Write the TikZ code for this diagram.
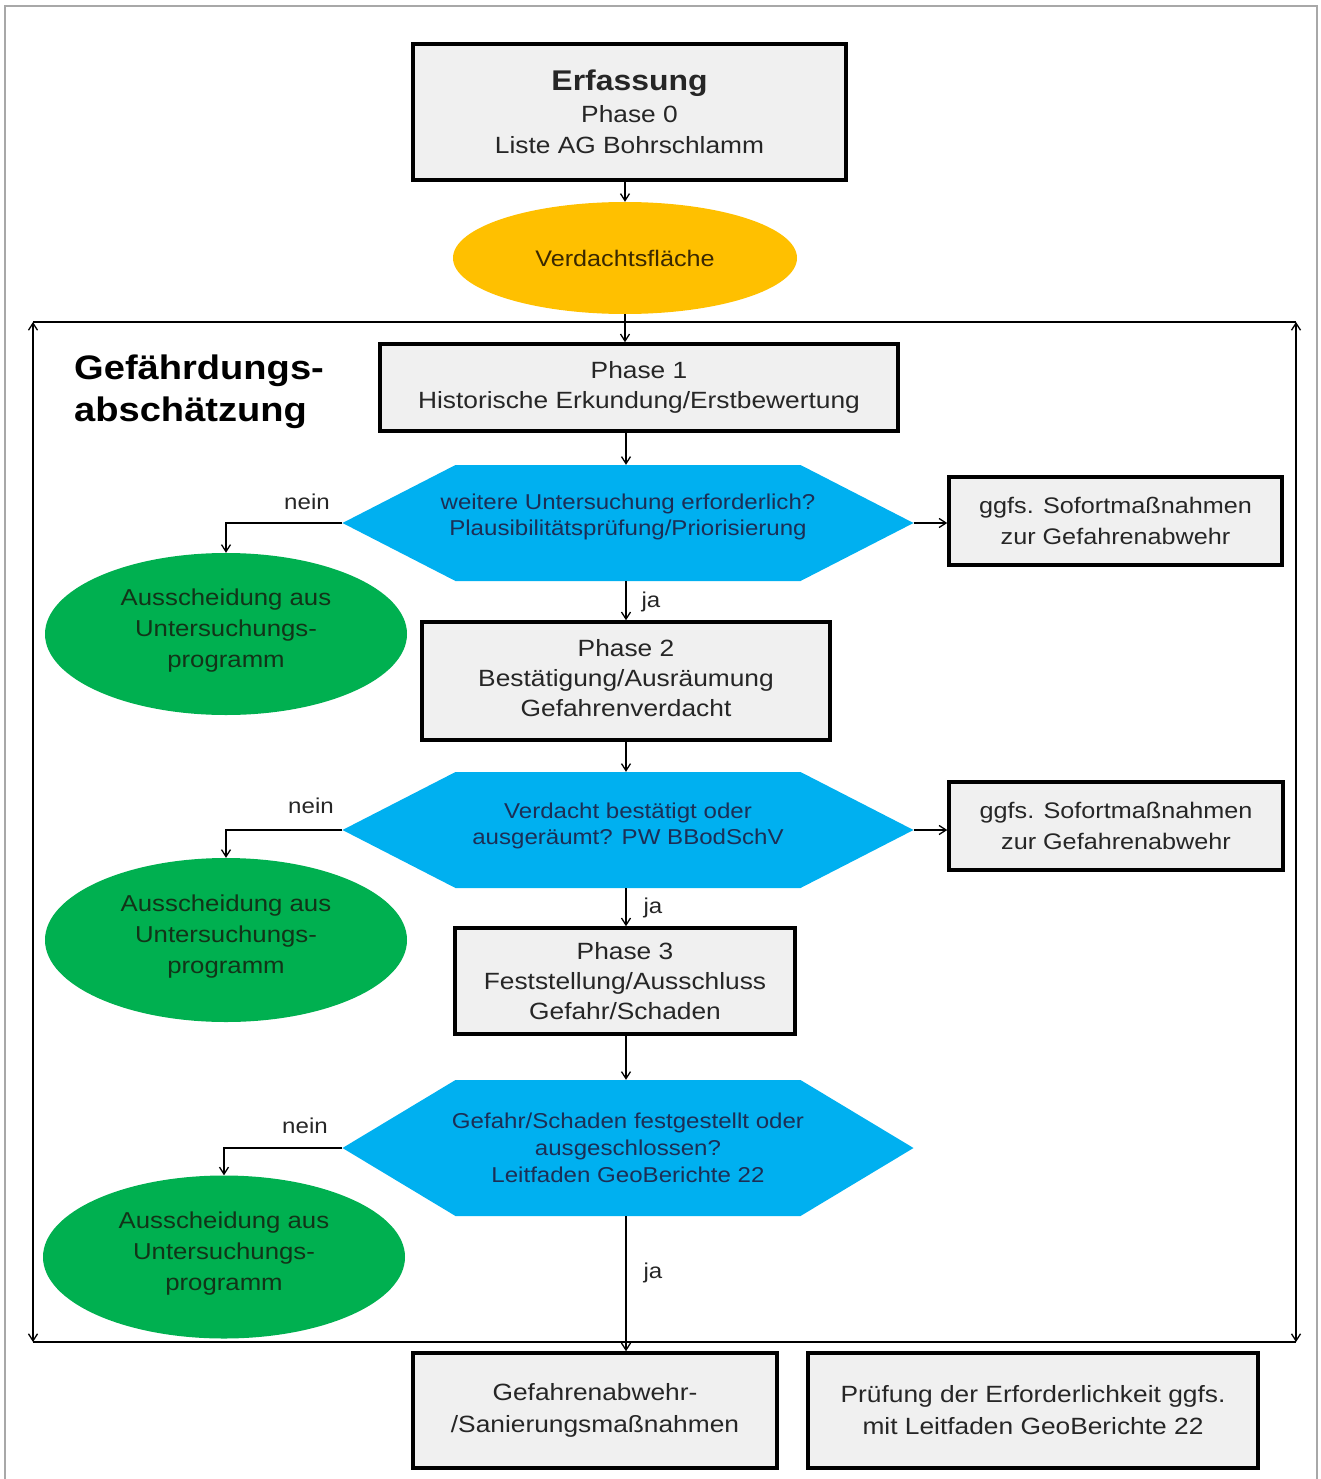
\documentclass[tikz,border=0pt]{standalone}
\usepackage{fontspec}
\setmainfont{Liberation Sans}[FakeStretch=1.12]
\usetikzlibrary{arrows.meta,shapes.geometric}
\definecolor{boxfill}{HTML}{F0F0F0}
\definecolor{hexblue}{HTML}{00B0F0}
\definecolor{hextext}{HTML}{1C2E55}
\definecolor{grn}{HTML}{00B050}
\definecolor{grntext}{HTML}{123418}
\definecolor{yel}{HTML}{FFC000}
\definecolor{yeltext}{HTML}{3A2800}
\definecolor{bordergray}{HTML}{A8A8A8}
\begin{document}
\begin{tikzpicture}[x=1pt,y=-1pt,
  phasebox/.style={rectangle, draw=black, line width=3.5pt, fill=boxfill, inner sep=0pt, align=center,
    font=\fontsize{23.5}{30}\selectfont, text=black!85},
  hexnode/.style={rectangle, inner sep=0pt, align=center, minimum width=571pt,
    font=\fontsize{21.5}{26}\selectfont, text=hextext,
    path picture={\fill[hexblue] (path picture bounding box.west)
      -- ([xshift=113pt]path picture bounding box.north west)
      -- ([xshift=-113pt]path picture bounding box.north east)
      -- (path picture bounding box.east)
      -- ([xshift=-113pt]path picture bounding box.south east)
      -- ([xshift=113pt]path picture bounding box.south west) -- cycle;}},
  grnell/.style={ellipse, fill=grn, inner sep=0pt, align=center, minimum width=362pt,
    font=\fontsize{23}{31}\selectfont, text=grntext},
  lbl/.style={font=\fontsize{21.5}{24}\selectfont, text=black!85, inner sep=0pt},
  conn/.style={line width=1.3pt, -{Straight Barb[length=7pt,width=9pt]}},
  frameline/.style={line width=1.3pt}
]
\useasboundingbox (0,0) rectangle (1320,1479);
\draw[bordergray, line width=2pt] (5,1479) -- (5,6) -- (1317,6) -- (1317,1479);

% frame
\coordinate (ftl) at (33,322);
\coordinate (ftr) at (1296,322);
\coordinate (fbl) at (33,1342);
\coordinate (fbr) at (1296,1342);
\draw[frameline] (ftl) -- (ftr);
\draw[frameline] (fbl) -- (fbr);
\draw[frameline, {Straight Barb[length=7pt,width=9pt]}-{Straight Barb[length=7pt,width=9pt]}] (ftl) -- (fbl);
\draw[frameline, {Straight Barb[length=7pt,width=9pt]}-{Straight Barb[length=7pt,width=9pt]}] (ftr) -- (fbr);

\node[anchor=west, align=left, inner sep=0pt, font=\bfseries\fontsize{34}{42}\selectfont] (title) at (74,392)
  {Gefährdungs-\\abschätzung};

% nodes
\node[phasebox, minimum width=433pt, minimum height=136pt] (erf) at (629.5,112)
  {{\bfseries\fontsize{28.5}{35}\selectfont Erfassung}\\[2pt]Phase 0\\[1pt]Liste AG Bohrschlamm};
\node[ellipse, fill=yel, inner sep=0pt, minimum width=344pt, minimum height=112pt,
  font=\fontsize{22.5}{28}\selectfont, text=yeltext] (verd) at (625,258) {\raisebox{-2pt}{Verdachtsfläche}};
\node[phasebox, minimum width=518pt, minimum height=87pt] (p1) at (639,387.5)
  {Phase 1\\Historische Erkundung/Erstbewertung};
\node[hexnode, minimum height=116pt] (h1) at (628,523)
  {weitere Untersuchung erforderlich?\\Plausibilitätsprüfung/Priorisierung\\[-9pt]};
\node[phasebox, minimum width=333pt, minimum height=88pt, font=\fontsize{22.5}{31}\selectfont] (s1) at (1115.5,521)
  {ggfs. Sofortmaßnahmen\\zur Gefahrenabwehr};
\node[grnell, minimum height=162pt] (g1) at (226,634)
  {Ausscheidung aus\\Untersuchungs-\\programm\\[-20pt]};
\node[phasebox, minimum width=408pt, minimum height=118pt] (p2) at (626,681)
  {Phase 2\\Bestätigung/Ausräumung\\Gefahrenverdacht\\[-24pt]};
\node[hexnode, minimum height=116pt] (h2) at (628,830)
  {Verdacht bestätigt oder\\ausgeräumt? PW BBodSchV\\[-13pt]};
\node[phasebox, minimum width=334pt, minimum height=88pt, font=\fontsize{22.5}{31}\selectfont] (s2) at (1116,826)
  {ggfs. Sofortmaßnahmen\\zur Gefahrenabwehr};
\node[grnell, minimum height=164pt] (g2) at (226,940)
  {Ausscheidung aus\\Untersuchungs-\\programm\\[-20pt]};
\node[phasebox, minimum width=340pt, minimum height=106pt] (p3) at (625,981)
  {Phase 3\\Feststellung/Ausschluss\\Gefahr/Schaden};
\node[hexnode, minimum height=136pt, font=\fontsize{21.5}{27}\selectfont] (h3) at (628,1148)
  {Gefahr/Schaden festgestellt oder\\ausgeschlossen?\\Leitfaden GeoBerichte 22};
\node[grnell, minimum height=163pt] (g3) at (224,1257)
  {Ausscheidung aus\\Untersuchungs-\\programm\\[-20pt]};
\node[phasebox, minimum width=364pt, minimum height=115pt, font=\fontsize{23.5}{32}\selectfont] (b1) at (595,1410.5)
  {Gefahrenabwehr-\\/Sanierungsmaßnahmen};
\node[phasebox, minimum width=450pt, minimum height=115pt, font=\fontsize{23.5}{32}\selectfont] (b2) at (1033,1410.5)
  {Prüfung der Erforderlichkeit ggfs.\\mit Leitfaden GeoBerichte 22};

% connectors
\draw[conn] (erf.south -| verd.north) -- (verd.north);
\draw[conn] (verd.south) -- (verd.south |- p1.north);
\draw[conn] ([xshift=-2pt]p1.south -| h1.north) -- ([xshift=-2pt]h1.north);
\draw[conn] ([xshift=-2pt]h1.south) -- ([xshift=-2pt]h1.south |- p2.north);
\draw[conn] ([xshift=-2pt]p2.south -| h2.north) -- ([xshift=-2pt]h2.north);
\draw[conn] ([xshift=-2pt]h2.south) -- ([xshift=-2pt]h2.south |- p3.north);
\draw[conn] ([xshift=-2pt]p3.south -| h3.north) -- ([xshift=-2pt]h3.north);
\draw[conn] ([xshift=-2pt]h3.south) -- ([xshift=-2pt]h3.south |- b1.north);
\draw[conn] (h1.west) -| (g1.north);
\draw[conn] (h2.west) -| (g2.north);
\draw[conn] (h3.west) -| (g3.north);
\draw[conn] (h1.east) -- (h1.east -| s1.west);
\draw[conn] (h2.east) -- (h2.east -| s2.west);

% labels
\node[lbl] (n1) at (307,502) {nein};
\node[lbl] (n2) at (311,806) {nein};
\node[lbl] (n3) at (305,1126) {nein};
\node[lbl] (j1) at (651,602) {ja};
\node[lbl] (j2) at (653,908) {ja};
\node[lbl] (j3) at (653,1273) {ja};
\end{tikzpicture}
\end{document}
